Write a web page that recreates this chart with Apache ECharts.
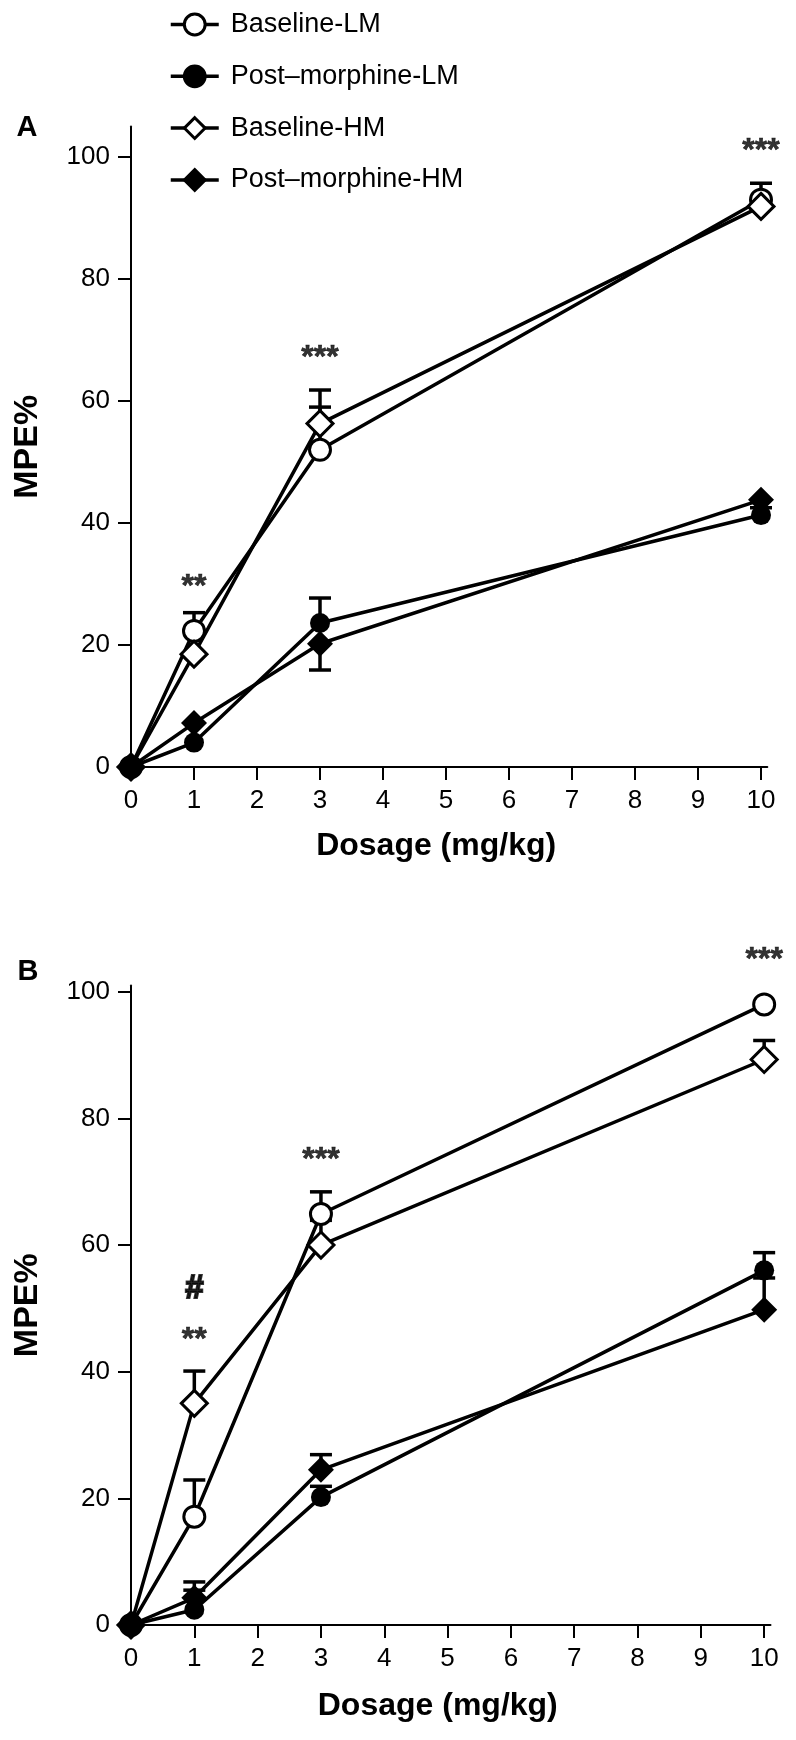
<!DOCTYPE html>
<html><head><meta charset="utf-8">
<script src="https://cdn.jsdelivr.net/npm/echarts@6/dist/echarts.min.js"></script>
<style>html,body{margin:0;padding:0;background:#fff}#c{width:796px;height:1740px}</style>
</head><body><div id="c"></div>
<script>
// ---------- data ----------
const doses = [0, 1, 3, 10];
const xTicks = [0, 1, 2, 3, 4, 5, 6, 7, 8, 9, 10];
const yTicks = [0, 20, 40, 60, 80, 100];
const names = ['Baseline-LM', 'Post\u2013morphine-LM', 'Baseline-HM', 'Post\u2013morphine-HM'];
const xTitle = 'Dosage (mg/kg)';
const yTitle = 'MPE%';

// Panel A means
const A_baseLM = [0, 22.3, 52.0, 93.0];
const A_postLM = [0, 4.0, 23.6, 41.3];
const A_baseHM = [0, 18.5, 56.3, 91.9];
const A_postHM = [0, 7.2, 20.2, 43.8];
// Panel A error-bar ends (SEM end as drawn)
const A_baseLM_err = [null, 25.3, 59.0, 95.7];
const A_postLM_err = [null, null, 27.7, 42.5];
const A_baseHM_err = [null, null, 61.8, null];
const A_postHM_err = [null, null, 15.9, null];
// Panel A significance marks [dose, y, text]
const A_marks = [[1, 29.5, '**'], [3, 67.1, '***'], [10, 100.9, '***']];

// Panel B means
const B_baseLM = [0, 17.1, 64.9, 98.0];
const B_postLM = [0, 2.4, 20.2, 56.0];
const B_baseHM = [0, 35.0, 60.0, 89.3];
const B_postHM = [0, 4.3, 24.5, 49.8];
// Panel B error-bar ends
const B_baseLM_err = [null, 22.9, 68.4, null];
const B_postLM_err = [null, 5.5, 21.9, 58.8];
const B_baseHM_err = [null, 40.1, 63.9, 92.3];
const B_postHM_err = [null, 6.8, 26.9, 54.8];
// Panel B marks
const B_marks = [[1, 45.0, '**'], [1, 53.0, '#'], [3, 73.4, '***'], [10, 105.0, '***']];

// ---------- styles ----------
const FONT = "'Liberation Sans', Arial, Helvetica, sans-serif";
const LW = 3.5;
const styleOf = [
  { symbol: 'circle', size: 21, fill: '#fff', bw: 3 },
  { symbol: 'circle', size: 20, fill: '#000', bw: 0 },
  { symbol: 'diamond', size: 26, fill: '#fff', bw: 3 },
  { symbol: 'diamond', size: 26, fill: '#000', bw: 0 }
];

function xAxis(gi, gap) {
  return {
    type: 'value', gridIndex: gi, min: 0, max: 10.1,
    axisLine: { lineStyle: { color: '#000', width: 2 } },
    axisTick: { customValues: xTicks, length: 13, lineStyle: { color: '#000', width: 2 } },
    axisLabel: { customValues: xTicks, margin: 21, fontSize: 26, color: '#000', fontFamily: FONT },
    splitLine: { show: false },
    name: xTitle, nameLocation: 'middle', nameGap: gap,
    nameTextStyle: { fontSize: 32, fontWeight: 'bold', color: '#000', fontFamily: FONT, padding: [0, 26, 0, 0] }
  };
}
function yAxis(gi, max) {
  return {
    type: 'value', gridIndex: gi, min: 0, max: max,
    axisLine: { show: true, lineStyle: { color: '#000', width: 2 } },
    axisTick: { show: true, customValues: yTicks, length: 13, lineStyle: { color: '#000', width: 2 } },
    axisLabel: { customValues: yTicks, margin: 21, fontSize: 26, color: '#000', fontFamily: FONT },
    splitLine: { show: false },
    name: yTitle, nameLocation: 'middle', nameGap: 86,
    nameTextStyle: { fontSize: 34, fontWeight: 'bold', color: '#000', fontFamily: FONT }
  };
}
function lineSeries(gi, idx, vals) {
  const s = styleOf[idx];
  return {
    type: 'line', name: names[idx], xAxisIndex: gi, yAxisIndex: gi,
    data: doses.map((d, i) => [d, vals[i]]),
    symbol: s.symbol, symbolSize: s.size, showSymbol: true, clip: false,
    lineStyle: { color: '#000', width: LW },
    itemStyle: { color: s.fill, borderColor: '#000', borderWidth: s.bw },
    emphasis: { disabled: true }, animation: false, z: 3
  };
}
function errSeries(gi, pairs) {
  const data = [];
  pairs.forEach(([means, ends]) => {
    doses.forEach((d, i) => { if (ends[i] != null) data.push([d, means[i], ends[i]]); });
  });
  return {
    type: 'custom', xAxisIndex: gi, yAxisIndex: gi, data: data, z: 2, silent: true, animation: false,
    encode: { x: 0, y: [1, 2] },
    renderItem: function (params, api) {
      const x = api.value(0), m = api.value(1), e = api.value(2);
      const p0 = api.coord([x, m]), p1 = api.coord([x, e]);
      const hw = 11;
      return {
        type: 'group', children: [
          { type: 'line', shape: { x1: p0[0], y1: p0[1], x2: p1[0], y2: p1[1] }, style: { stroke: '#000', lineWidth: LW } },
          { type: 'line', shape: { x1: p1[0] - hw, y1: p1[1], x2: p1[0] + hw, y2: p1[1] }, style: { stroke: '#000', lineWidth: LW } }
        ]
      };
    }
  };
}
function markSeries(gi, marks) {
  return {
    type: 'scatter', xAxisIndex: gi, yAxisIndex: gi, clip: false, silent: true, animation: false,
    symbolSize: 1, itemStyle: { color: 'rgba(0,0,0,0)' }, z: 5,
    data: marks.map(m => ({
      value: m,
      label: m[2] === '#'
        ? { show: true, position: 'inside', formatter: m[2], color: '#000', fontSize: 33, fontWeight: 'bold',
            fontFamily: FONT, textBorderColor: '#000', textBorderWidth: 2 }
        : { show: true, position: 'inside', formatter: m[2], color: '#000', fontSize: 32, fontWeight: 'bold',
            fontFamily: FONT, textBorderColor: '#000', textBorderWidth: 0.6 }
    }))
  };
}

const chart = echarts.init(document.getElementById('c'), null, { renderer: 'canvas' });
chart.setOption({
  backgroundColor: '#fff',
  animation: false,
  textStyle: { fontFamily: FONT },
  legend: {
    data: names, orient: 'vertical', left: 169, top: 11, padding: 0,
    itemWidth: 48, itemHeight: 26, itemGap: 24.8,
    lineStyle: { width: LW, color: '#000' },
    itemStyle: { borderWidth: 3, borderColor: '#000' },
    textStyle: { fontSize: 27, color: '#000', fontFamily: FONT, padding: [0, 0, 0, 7] },
    selectedMode: false
  },
  grid: [
    { left: 131, top: 126.5, width: 636.3, height: 640.5 },
    { left: 131, top: 985.4, width: 639.5, height: 639.6 }
  ],
  xAxis: [xAxis(0, 63), xAxis(1, 65)],
  yAxis: [yAxis(0, 105), yAxis(1, 101)],
  graphic: [
    { type: 'text', style: { text: 'A', x: 27, y: 128, align: 'center', verticalAlign: 'middle', fontSize: 29, fontWeight: 'bold', fontFamily: FONT, fill: '#000' } },
    { type: 'text', style: { text: 'B', x: 28, y: 972, align: 'center', verticalAlign: 'middle', fontSize: 29, fontWeight: 'bold', fontFamily: FONT, fill: '#000' } }
  ],
  series: [
    errSeries(0, [[A_baseLM, A_baseLM_err], [A_postLM, A_postLM_err], [A_baseHM, A_baseHM_err], [A_postHM, A_postHM_err]]),
    lineSeries(0, 0, A_baseLM), lineSeries(0, 1, A_postLM), lineSeries(0, 2, A_baseHM), lineSeries(0, 3, A_postHM),
    markSeries(0, A_marks),
    errSeries(1, [[B_baseLM, B_baseLM_err], [B_postLM, B_postLM_err], [B_baseHM, B_baseHM_err], [B_postHM, B_postHM_err]]),
    lineSeries(1, 0, B_baseLM), lineSeries(1, 1, B_postLM), lineSeries(1, 2, B_baseHM), lineSeries(1, 3, B_postHM),
    markSeries(1, B_marks)
  ]
});
</script></body></html>
